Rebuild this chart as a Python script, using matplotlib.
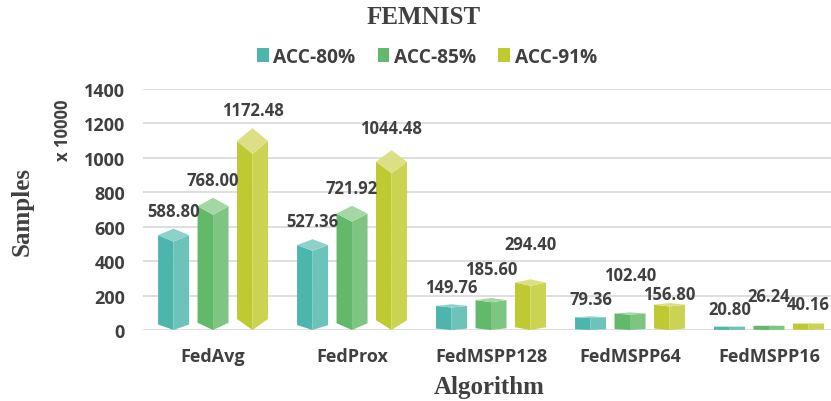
import matplotlib
matplotlib.use('Agg')
import matplotlib.pyplot as plt
from matplotlib.patches import Polygon, Patch

# ---- data ----
algorithms = ['FedAvg', 'FedProx', 'FedMSPP128', 'FedMSPP64', 'FedMSPP16']
series = ['ACC-80%', 'ACC-85%', 'ACC-91%']
acc80 = [588.80, 527.36, 149.76, 79.36, 20.80]
acc85 = [768.00, 721.92, 185.60, 102.40, 26.24]
acc91 = [1172.48, 1044.48, 294.40, 156.80, 40.16]
values = [acc80, acc85, acc91]
yticks = [0, 200, 400, 600, 800, 1000, 1200, 1400]

# label heights (layout; excel-style shuffled to avoid overlap)
label_y = [[691, 633, 250, 180, 122],
           [871, 825, 354, 320, 198],
           [1278, 1173, 500, 209, 151]]

# face colours: left, right, top
colors = [('#4DB6AC', '#6BC3B9', '#8DD2C8'),
          ('#63B96A', '#7DC580', '#A3D7A3'),
          ('#BFCA33', '#CBD452', '#DCDF84')]

TXT = '#404040'
SANS = ['Open Sans', 'DejaVu Sans']
SERIF = ['Liberation Serif', 'DejaVu Serif']

W, H = 831, 402
fig = plt.figure(figsize=(W / 100, H / 100), dpi=100)
ax = fig.add_axes([143 / W, 1 - 331 / H, (W - 143) / W, (331 - 90) / H])
ax.set_xlim(-0.504, 4.446)
ax.set_ylim(0, 1400)

for s in ax.spines.values():
    s.set_visible(False)
ax.set_yticks(yticks)
ax.grid(axis='y', color='#DCDCDC', lw=1.3)
ax.set_axisbelow(True)
ax.tick_params(length=0)
ax.tick_params(axis='y', pad=13)
ax.tick_params(axis='x', pad=12)
ax.set_xticks(range(len(algorithms)))
ax.set_xticklabels(algorithms)
for lab in ax.get_xticklabels() + ax.get_yticklabels():
    lab.set_fontfamily(SANS)
    lab.set_fontweight('bold')
    lab.set_fontsize(13)
    lab.set_color(TXT)

bw = 0.223
offs = [-0.284, 0.0, 0.284]
for si in range(3):
    cl, cr, ct = colors[si]
    for i, v in enumerate(values[si]):
        c = i + offs[si]
        h = bw / 2
        d = 0.064 * v          # depth of the top diamond
        b = 0.85 * d           # depth of the bottom point
        left = [(c - h, b), (c, 0), (c, v - 2 * d), (c - h, v - d)]
        right = [(c, 0), (c + h, b), (c + h, v - d), (c, v - 2 * d)]
        top = [(c - h, v - d), (c, v), (c + h, v - d), (c, v - 2 * d)]
        ax.add_patch(Polygon(left, closed=True, fc=cl, ec='none', zorder=3))
        ax.add_patch(Polygon(right, closed=True, fc=cr, ec='none', zorder=3))
        ax.add_patch(Polygon(top, closed=True, fc=ct, ec='none', zorder=3))
        ax.text(c, label_y[si][i], f'{v:.2f}', ha='center', va='center',
                fontsize=12, fontweight='bold', color=TXT, family=SANS, zorder=4)

fig.text(424 / W, 1 - 17 / H, 'FEMNIST', ha='center', va='center',
         fontsize=18, fontweight='bold', color=TXT, family=SERIF)
fig.text(22 / W, 1 - 212 / H, 'Samples', ha='center', va='center', rotation=90,
         fontsize=18, fontweight='bold', color=TXT, family=SERIF)
fig.text(489 / W, 1 - 388 / H, 'Algorithm', ha='center', va='center',
         fontsize=18, fontweight='bold', color=TXT, family=SERIF)
fig.text(63 / W, 1 - 130 / H, 'x 10000', ha='center', va='center', rotation=90,
         fontsize=12, fontweight='bold', color=TXT, family=SANS)

handles = [Patch(fc=colors[k][0], ec='none', label=series[k]) for k in range(3)]
leg = fig.legend(handles=handles, loc='center', bbox_to_anchor=(427 / W, 1 - 58 / H),
                 ncol=3, frameon=False, handlelength=0.62, handleheight=0.75,
                 handletextpad=0.25, columnspacing=1.15,
                 prop={'family': SANS, 'weight': 'bold', 'size': 13.8})
for t in leg.get_texts():
    t.set_color(TXT)

fig.savefig('out.png', dpi=100)
